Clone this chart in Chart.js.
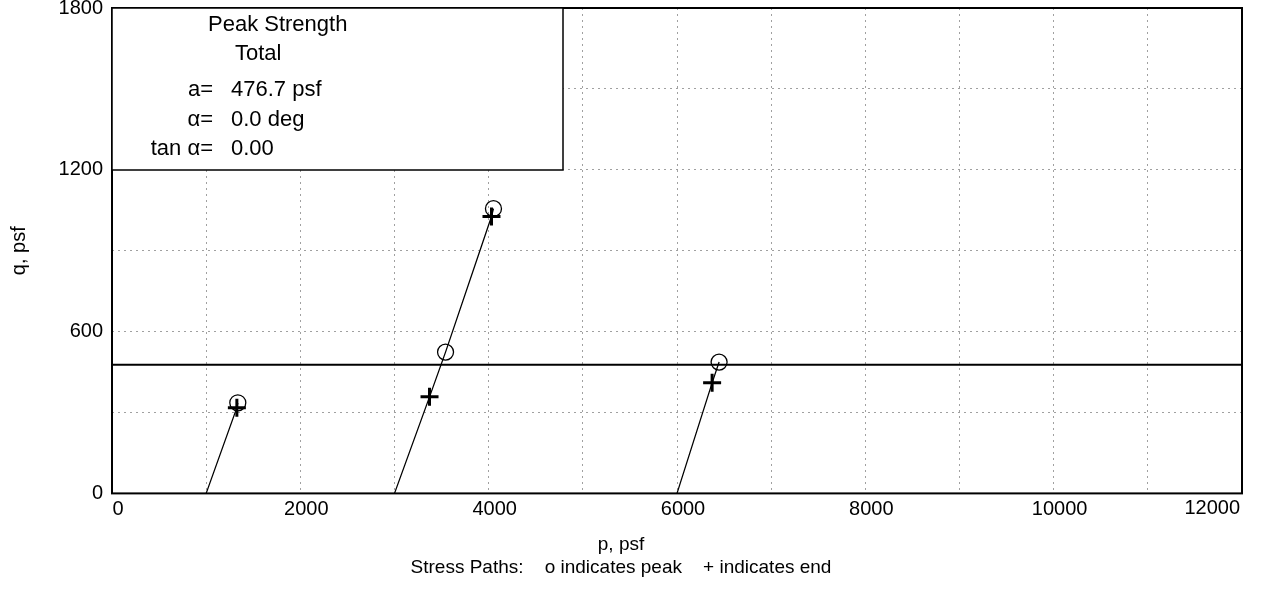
<!DOCTYPE html>
<html>
<head>
<meta charset="utf-8">
<script src="https://cdn.jsdelivr.net/npm/chart.js@4.4.1/dist/chart.umd.min.js"></script>
<style>
  html, body { margin: 0; padding: 0; background: #fff; }
  #wrap { width: 1262px; height: 595px; }
</style>
</head>
<body>
<div id="wrap"><canvas id="pqChart"></canvas></div>
<script>
// --- Data (p, q in psf) ---
const pathStarts = [[1000, 0], [3000, 0], [6000, 0]];
const peakPoints = [[1336, 336], [3542, 524], [4051, 1056], [6447, 487]];
const endPoints = [[1326, 318], [3372, 358], [4030, 1027], [6373, 410]];
const pointPath = [0, 1, 1, 2];   // which stress path each peak/end pair sits on
const envelopeA = 476.7;          // a, psf (alpha = 0)
const xTickLabels = [0, 2000, 4000, 6000, 8000, 10000, 12000];
const yTickLabels = [0, 600, 1200, 1800];
const infoLines = [
    ['', 'Peak Strength'],
    ['', 'Total'],
    ['a=', '476.7 psf'],
    ['\u03B1=', '0.0 deg'],
    ['tan \u03B1=', '0.00']
];

const FONT = '"Liberation Sans", Arial, sans-serif';
const toXY = (pt) => ({ x: pt[0], y: pt[1] });

// one line per stress path: start, then its peak/end points going up in q
const pathSets = pathStarts.map((s, i) => {
    const pts = [];
    pointPath.forEach((p, j) => {
        if (p === i) pts.push(peakPoints[j], endPoints[j]);
    });
    pts.sort((a, b) => a[1] - b[1]);
    return {
        data: [s, ...pts].map(toXY),
        showLine: true,
        borderColor: '#000',
        borderWidth: 1.3,
        pointRadius: 0,
        order: 3
    };
});

// --- Frame, info box and last x label ---
const framePlugin = {
    id: 'frame',
    afterDraw(chart) {
        const { ctx, chartArea: a } = chart;
        ctx.save();
        ctx.strokeStyle = '#000';
        ctx.lineWidth = 2;
        ctx.strokeRect(a.left, a.top, a.right - a.left, a.bottom - a.top);

        // info box in the top-left corner
        const boxW = 451, boxH = 162;
        ctx.fillStyle = '#fff';
        ctx.fillRect(a.left, a.top, boxW, boxH);
        ctx.lineWidth = 1.5;
        ctx.strokeRect(a.left, a.top, boxW, boxH);

        ctx.fillStyle = '#000';
        ctx.font = '22px ' + FONT;
        ctx.textBaseline = 'middle';
        ctx.textAlign = 'left';
        ctx.fillText(infoLines[0][1], a.left + 96, a.top + 17);
        ctx.fillText(infoLines[1][1], a.left + 123, a.top + 46);
        const rows = [a.top + 82, a.top + 112, a.top + 141];
        for (let i = 2; i < infoLines.length; i++) {
            ctx.textAlign = 'right';
            ctx.fillText(infoLines[i][0], a.left + 101, rows[i - 2]);
            ctx.textAlign = 'left';
            ctx.fillText(infoLines[i][1], a.left + 119, rows[i - 2]);
        }

        // right-most x label sits inside the frame edge
        ctx.font = '20px ' + FONT;
        ctx.textAlign = 'right';
        ctx.textBaseline = 'top';
        ctx.fillText(String(xTickLabels[xTickLabels.length - 1]), a.right - 2, a.bottom + 5);
        ctx.restore();
    }
};

const grid = {
    color: '#a0a0a0',
    lineWidth: 1,
    drawTicks: false
};

const ctx = document.getElementById('pqChart').getContext('2d');
const pqChart = new Chart(ctx, {
    type: 'scatter',
    data: {
        datasets: [
            ...pathSets,
            {
                // failure envelope, horizontal at q = a
                data: [{ x: 0, y: envelopeA }, { x: 12000, y: envelopeA }],
                showLine: true,
                borderColor: '#000',
                borderWidth: 2,
                pointRadius: 0,
                order: 4
            },
            {
                // peaks
                data: peakPoints.map(toXY),
                pointStyle: 'circle',
                pointRadius: 8,
                pointBorderWidth: 1.3,
                pointBorderColor: '#000',
                pointBackgroundColor: 'rgba(0,0,0,0)',
                showLine: false,
                order: 1
            },
            {
                // ends
                data: endPoints.map(toXY),
                pointStyle: 'cross',
                pointRadius: 9,
                pointBorderWidth: 3,
                pointBorderColor: '#000',
                showLine: false,
                order: 2
            }
        ]
    },
    options: {
        responsive: true,
        maintainAspectRatio: false,
        animation: false,
        layout: { autoPadding: false, padding: { top: 8, right: 20, bottom: 6, left: 0 } },
        scales: {
            x: {
                min: 0,
                max: 12000,
                afterFit: (scale) => {
                    scale.height = 34;
                    scale.paddingLeft = 0;
                    scale.paddingRight = 0;
                },
                afterBuildTicks: (scale) => {
                    scale.ticks = [];
                    for (let v = 0; v <= 12000; v += 1000) scale.ticks.push({ value: v });
                },
                grid: { ...grid },
                border: { display: false, dash: [2, 4] },
                ticks: {
                    color: '#000',
                    font: { family: FONT, size: 20 },
                    padding: 4,
                    labelOffset: 6,
                    maxRotation: 0,
                    autoSkip: false,
                    // 12000 is drawn by the frame plugin
                    callback: (v) => (xTickLabels.includes(v) && v < 12000) ? String(v) : ''
                }
            },
            y: {
                min: 0,
                max: 1800,
                afterFit: (scale) => {
                    scale.width = 112;
                    scale.paddingTop = 0;
                    scale.paddingBottom = 0;
                },
                afterBuildTicks: (scale) => {
                    scale.ticks = [];
                    for (let v = 0; v <= 1800; v += 300) scale.ticks.push({ value: v });
                },
                grid: { ...grid },
                border: { display: false, dash: [2, 4] },
                ticks: {
                    color: '#000',
                    font: { family: FONT, size: 20 },
                    padding: 9,
                    autoSkip: false,
                    callback: (v) => yTickLabels.includes(v) ? String(v) : ''
                },
                title: {
                    display: true,
                    text: 'q, psf',
                    color: '#000',
                    font: { family: FONT, size: 20 },
                    padding: { top: 7, bottom: 0 }
                }
            }
        },
        plugins: {
            legend: { display: false },
            tooltip: { enabled: false },
            title: {
                display: true,
                position: 'bottom',
                text: ['p, psf', 'Stress Paths:    o indicates peak    + indicates end'],
                color: '#000',
                font: { family: FONT, size: 19, weight: 'normal' },
                padding: { top: 6, bottom: 10 }
            }
        }
    },
    plugins: [framePlugin]
});
</script>
</body>
</html>
